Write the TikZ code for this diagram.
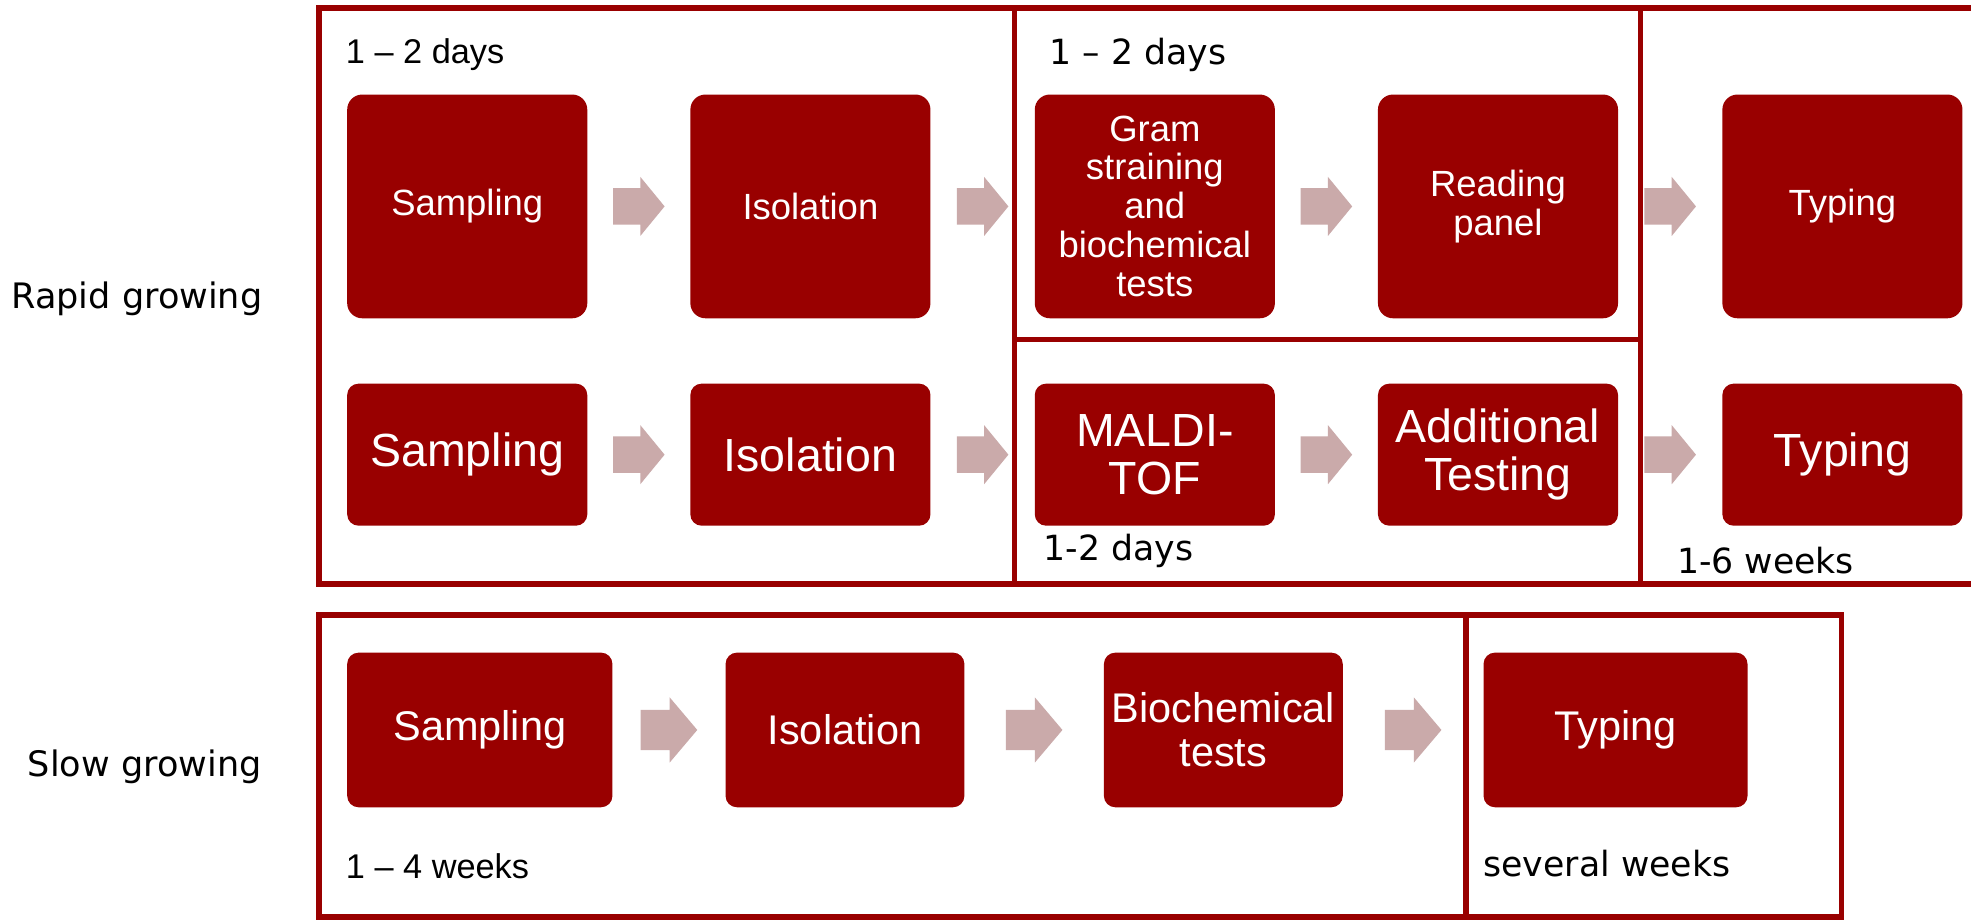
\documentclass[tikz,border=0pt]{standalone}
\usepackage{fontspec}
\setmainfont{Liberation Sans}
\newfontfamily\verd{DejaVu Sans}
\usetikzlibrary{calc}
\definecolor{boxred}{RGB}{153,0,0}
\definecolor{framered}{RGB}{153,0,0}
\definecolor{arrowpink}{RGB}{202,170,170}
\newcommand{\blockarrow}[5]{\fill[arrowpink] ($(#1)+(-#2,-#5)$) -- ($(#1)+(#3,-#5)$) -- ($(#1)+(#3,-#4)$) -- ($(#1)+(#2,0)$) -- ($(#1)+(#3,#4)$) -- ($(#1)+(#3,#5)$) -- ($(#1)+(-#2,#5)$) -- cycle;}
\begin{document}
\begin{tikzpicture}[x=1pt,y=-1pt,
  frame/.style={draw=framered,line width=4.5pt},
  boxbase/.style={fill=boxred,text=white,align=center,inner sep=0pt,anchor=north west},
  boxa/.style={boxbase,rounded corners=12pt,minimum width=191pt,minimum height=178pt,font=\fontsize{29}{31}\selectfont},
  boxb/.style={boxbase,rounded corners=9pt,minimum width=191pt,minimum height=113pt,font=\fontsize{37}{38}\selectfont},
  boxc/.style={boxbase,rounded corners=9pt,minimum height=123pt,font=\fontsize{33}{35}\selectfont},
  lblv/.style={inner sep=0pt,anchor=base west,font=\verd\fontsize{27.6}{30}\selectfont},
  lbla/.style={inner sep=0pt,anchor=base west,font=\fontsize{27.3}{30}\selectfont}
]
\useasboundingbox (0,0) rectangle (1568,732);
\clip (0,0) rectangle (1568,732);
\fill[white] (0,0) rectangle (1568,732);

% frames
\draw[frame] (253.8,6.2) rectangle (1600,464.5);
\draw[frame] (807,6.2) rectangle (1305,270);
\draw[frame] (807,270) rectangle (1305,464.5);
\draw[frame] (253.8,489.5) rectangle (1166,729.5);
\draw[frame] (1166,489.5) rectangle (1465,729.5);

% row 1
\node[boxa] (rs1) at (276,75) {Sampling};
\node[boxa] (ri1) at (549,75) {Isolation};
\node[boxa] (rg1) at (823,75) {Gram\\straining\\and\\biochemical\\tests};
\node[boxa] (rr1) at (1096,75) {Reading\\panel};
\node[boxa] (rt1) at (1370,75) {Typing};

% row 2
\node[boxb] (rs2) at (276,305) {Sampling};
\node[boxb] (ri2) at (549,305) {Isolation};
\node[boxb] (rm2) at (823,305) {MALDI-\\TOF};
\node[boxb] (ra2) at (1096,305) {Additional\\Testing};
\node[boxb] (rt2) at (1370,305) {Typing};

% slow row
\node[boxc,minimum width=211pt] (ss) at (276,519) {Sampling};
\node[boxc,minimum width=190pt] (si) at (577,519) {Isolation};
\node[boxc,minimum width=190pt] (sb) at (878,519) {Biochemical\\tests};
\node[boxc,minimum width=210pt] (st) at (1180,519) {Typing};

% arrows
\coordinate (a11) at ($(rs1.east)!0.5!(ri1.west)$);
\coordinate (a12) at ($(ri1.east)!0.5!(rg1.west)$);
\coordinate (a13) at ($(rg1.east)!0.5!(rr1.west)$);
\coordinate (a14) at ($(rr1.east)!0.5!(rt1.west)$);
\coordinate (a21) at ($(rs2.east)!0.5!(ri2.west)$);
\coordinate (a22) at ($(ri2.east)!0.5!(rm2.west)$);
\coordinate (a23) at ($(rm2.east)!0.5!(ra2.west)$);
\coordinate (a24) at ($(ra2.east)!0.5!(rt2.west)$);
\coordinate (a31) at ($(ss.east)!0.5!(si.west)$);
\coordinate (a32) at ($(si.east)!0.5!(sb.west)$);
\coordinate (a33) at ($(sb.east)!0.5!(st.west)$);
\foreach \c in {a11,a12,a13,a14,a21,a22,a23,a24}{\blockarrow{\c}{20.5}{1.2}{23.5}{14.5}}
\foreach \c in {a31,a32,a33}{\blockarrow{\c}{22.5}{0.5}{26}{16}}

% labels
\node[lblv,font=\verd\fontsize{27.9}{30}\selectfont] (lrapid) at (9,245.5) {Rapid growing};
\node[lblv,font=\verd\fontsize{27.9}{30}\selectfont] (lslow) at (22,618) {Slow growing};
\node[lbla] (t1) at (275,50.5) {1 – 2 days};
\node[lblv] (t2) at (835,51) {1 – 2 days};
\node[lblv] (t3) at (830,445.5) {1-2 days};
\node[lblv] (t4) at (1334,456) {1-6 weeks};
\node[lbla] (t5) at (275,699) {1 – 4 weeks};
\node[lblv] (t6) at (1180,697) {several weeks};
\end{tikzpicture}
\end{document}
